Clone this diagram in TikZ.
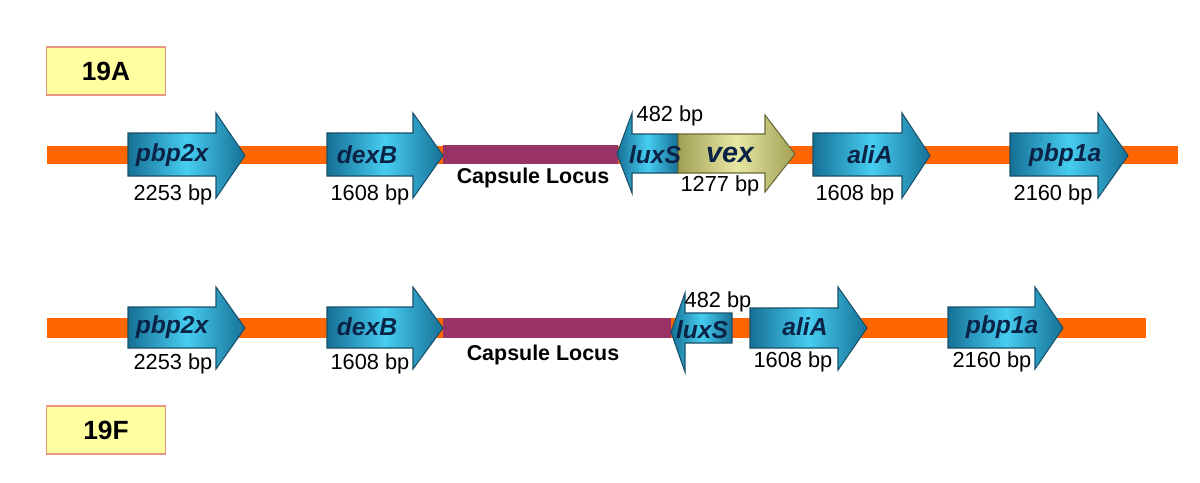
\documentclass[tikz,border=0pt]{standalone}
\usepackage{fontspec}
\setmainfont{Liberation Sans}
\usetikzlibrary{positioning}

\definecolor{chrom}{RGB}{255,102,0}
\definecolor{capsule}{RGB}{153,51,102}
\definecolor{boxfill}{RGB}{255,255,160}
\definecolor{boxline}{RGB}{232,150,130}
\definecolor{geneDark}{RGB}{22,112,150}
\definecolor{geneLight}{RGB}{70,205,240}
\definecolor{geneLine}{RGB}{25,80,105}
\definecolor{vexDark}{RGB}{160,160,85}
\definecolor{vexLight}{RGB}{232,232,165}
\definecolor{vexLine}{RGB}{105,105,55}
\definecolor{navy}{RGB}{10,35,70}

\begin{document}
\begin{tikzpicture}[x=0.2mm, y=-0.2mm,
    serobox/.style={draw=boxline, line width=0.9pt, fill=boxfill, minimum width=23.8mm, minimum height=9.6mm,
      font=\fontsize{15}{15}\selectfont\bfseries},
    gname/.style={font=\fontsize{14}{14}\selectfont\bfseries\itshape, text=navy},
    bplabel/.style={font=\fontsize{12.4}{12}\selectfont},
    locuslabel/.style={font=\fontsize{12.2}{12}\selectfont\bfseries},
    gene/.style={draw=geneLine, line width=0.6pt, left color=geneDark, right color=geneDark, middle color=geneLight},
    vexgene/.style={draw=vexLine, line width=0.6pt, left color=vexDark, right color=vexDark, middle color=vexLight}]

  \useasboundingbox (0,0) rectangle (1200,482);

  % ===== 19A =====
  \node[serobox] (sero19A) at (106,71) {19A};

  % cromosoma y locus capsular
  \fill[chrom] (47,146) rectangle (1178,164);
  \fill[capsule] (443,145) rectangle (618,164);
  \node[locuslabel] (locusA) at (533,178) {Capsule Locus};

  % genes
  \draw[gene] (128,133) -- (216,133) -- (216,113) -- (245,155.5) -- (216,198) -- (216,176) -- (128,176) -- cycle;
  \draw[gene] (327,133) -- (413,133) -- (413,113) -- (443,155.5) -- (413,198) -- (413,176) -- (327,176) -- cycle;
  \draw[gene] (678,134) -- (632,134) -- (632,113) -- (617,154) -- (632,193) -- (632,173) -- (678,173) -- cycle;
  \draw[vexgene] (678,134) -- (765,134) -- (765,115) -- (795,154) -- (765,192) -- (765,173) -- (678,173) -- cycle;
  \draw[gene] (813,133) -- (902,133) -- (902,113) -- (930,155.5) -- (902,198) -- (902,176) -- (813,176) -- cycle;
  \draw[gene] (1010,133) -- (1098,133) -- (1098,113) -- (1128,155.5) -- (1098,198) -- (1098,176) -- (1010,176) -- cycle;

  \node[gname] (pbpA) at (172,155) {pbp2x};
  \node[gname] (dexA) at (367,155) {dexB};
  \node[gname] (luxA) at (655,155) {luxS};
  \node[gname, font=\fontsize{16.3}{16}\selectfont\bfseries\itshape] (vexA) at (730,155) {vex};
  \node[gname] (aliA) at (870,155) {aliA};
  \node[gname] (pbpaA) at (1065,155) {pbp1a};

  \node[bplabel] (bpPbpA) at (173,195) {2253 bp};
  \node[bplabel] (bpDexA) at (370,195) {1608 bp};
  \node[bplabel] (bpLuxA) at (670,116) {482 bp};
  \node[bplabel] (bpVexA) at (720,186) {1277 bp};
  \node[bplabel] (bpAliA) at (855,195) {1608 bp};
  \node[bplabel] (bpPbpaA) at (1053,195) {2160 bp};

  % ===== 19F =====
  \node[serobox] (sero19F) at (106,430) {19F};

  \fill[chrom] (47,318) rectangle (1146,338);
  \fill[capsule] (443,318) rectangle (671,338);
  \node[locuslabel] (locusF) at (543,355) {Capsule Locus};

  \draw[gene] (128,307) -- (216,307) -- (216,287) -- (245,328) -- (216,369) -- (216,348) -- (128,348) -- cycle;
  \draw[gene] (327,307) -- (413,307) -- (413,287) -- (443,328) -- (413,369) -- (413,348) -- (327,348) -- cycle;
  \draw[gene] (732,313) -- (685,313) -- (685,293) -- (671,332) -- (685,372) -- (685,343) -- (732,343) -- cycle;
  \draw[gene] (750,308) -- (838,308) -- (838,287) -- (867,328) -- (838,370) -- (838,348) -- (750,348) -- cycle;
  \draw[gene] (948,307) -- (1035,307) -- (1035,287) -- (1063,328) -- (1035,369) -- (1035,348) -- (948,348) -- cycle;

  \node[gname] (pbpF) at (172,327) {pbp2x};
  \node[gname] (dexF) at (367,327) {dexB};
  \node[gname] (luxF) at (702,330) {luxS};
  \node[gname] (aliF) at (805,327) {aliA};
  \node[gname] (pbpaF) at (1002,327) {pbp1a};

  \node[bplabel] (bpPbpF) at (173,364) {2253 bp};
  \node[bplabel] (bpDexF) at (370,364) {1608 bp};
  \node[bplabel] (bpLuxF) at (718,302) {482 bp};
  \node[bplabel] (bpAliF) at (793,362) {1608 bp};
  \node[bplabel] (bpPbpaF) at (992,362) {2160 bp};
\end{tikzpicture}
\end{document}
